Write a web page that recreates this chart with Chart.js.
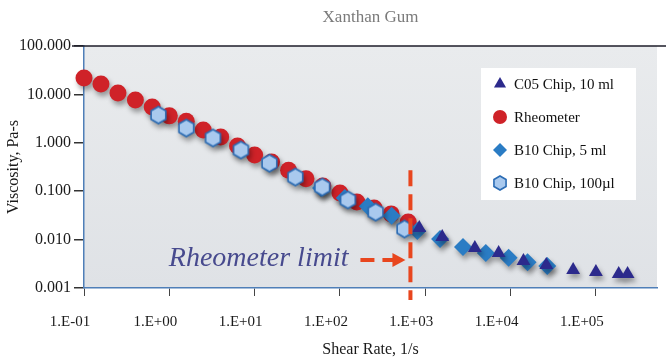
<!DOCTYPE html>
<html>
<head>
<meta charset="utf-8">
<title>Xanthan Gum</title>
<script src="https://cdn.jsdelivr.net/npm/chart.js@4.4.1/dist/chart.umd.min.js"></script>
<style>
  body { margin: 0; background: #fff; }
  #wrap { width: 666px; height: 359px; }
</style>
</head>
<body>
<div id="wrap"><canvas id="viscChart" width="666" height="359"></canvas></div>
<script>
// values (shear rate in 1/s, viscosity in Pa-s)
const c05Rate = [851, 1580, 3810, 7240, 14150, 26200, 54100, 100000, 185000, 235000];
const c05Visc = [0.0174, 0.0113, 0.0067, 0.0053, 0.0036, 0.0030, 0.00236, 0.00214, 0.00195, 0.00195];

const rheoRate = [0.1, 0.158, 0.25, 0.4, 0.63, 1.0, 1.58, 2.5, 4.0, 6.3, 10, 15.8, 25, 40, 63, 100, 158, 251, 398, 631];
const rheoVisc = [21.8, 16.4, 10.7, 7.7, 5.5, 3.6, 2.8, 1.84, 1.32, 0.86, 0.56, 0.40, 0.27, 0.18, 0.128, 0.092, 0.060, 0.045, 0.034, 0.023];

const b10Rate = [60, 114, 212, 403, 807, 1490, 2770, 5120, 9480, 15800, 26900];
const b10Visc = [0.116, 0.072, 0.049, 0.031, 0.0151, 0.0103, 0.0070, 0.0053, 0.0042, 0.0034, 0.00285];

const b10sRate = [0.745, 1.58, 3.25, 6.9, 14.9, 30, 62, 124, 262, 570];
const b10sVisc = [3.75, 2.02, 1.26, 0.71, 0.38, 0.196, 0.122, 0.066, 0.037, 0.0166];

const xTickValues = [0.1, 1, 10, 100, 1000, 10000, 100000];
const yTickValues = [0.001, 0.01, 0.1, 1, 10, 100];
const rheometerLimit = 670;

const toPoints = (xs, ys) => xs.map((v, i) => ({x: v, y: ys[i]}));

// hexagon marker, chart.js has no built in one
function hexMarker(r) {
    const s = Math.ceil(r * 2 + 4);
    const c = document.createElement('canvas');
    c.width = s; c.height = s;
    const g = c.getContext('2d');
    g.beginPath();
    for (let i = 0; i < 6; i++) {
        const a = -Math.PI / 2 + i * Math.PI / 3;
        const px = s / 2 + r * Math.cos(a), py = s / 2 + r * Math.sin(a);
        i ? g.lineTo(px, py) : g.moveTo(px, py);
    }
    g.closePath();
    g.fillStyle = '#a9c9ee';
    g.fill();
    g.lineWidth = 1.6;
    g.strokeStyle = '#2b6cb4';
    g.stroke();
    return c;
}
const hexBig = hexMarker(8.5);
const hexSmall = hexMarker(7);

const serif = '"Liberation Serif", "Times New Roman", serif';
Chart.defaults.font.family = serif;
Chart.defaults.font.size = 15;
Chart.defaults.color = '#1a1a1a';

const plotBackground = {
    id: 'plotBackground',
    beforeDraw(chart) {
        const {ctx, chartArea: a} = chart;
        ctx.save();
        ctx.fillStyle = '#fff';
        ctx.fillRect(0, 0, chart.width, chart.height);
        const g = ctx.createLinearGradient(0, a.top, 0, a.bottom);
        g.addColorStop(0, '#e9ebed');
        g.addColorStop(1, '#dfe2e6');
        ctx.fillStyle = g;
        ctx.fillRect(a.left, a.top, a.right - a.left, a.bottom - a.top);
        ctx.restore();
    }
};

const markerShadow = {
    id: 'markerShadow',
    beforeDatasetsDraw(chart) {
        const c = chart.ctx;
        c.save();
        c.shadowColor = 'rgba(0,0,0,0.35)';
        c.shadowBlur = 5;
        c.shadowOffsetX = 2;
        c.shadowOffsetY = 4;
    },
    afterDatasetsDraw(chart) {
        chart.ctx.restore();
    }
};

const limitAndLegend = {
    id: 'limitAndLegend',
    afterDraw(chart) {
        const {ctx, chartArea: a} = chart;
        const x = chart.scales.x, y = chart.scales.y;
        ctx.save();

        // dark line along the top of the plot
        ctx.strokeStyle = '#1c1c28';
        ctx.lineWidth = 1.5;
        ctx.beginPath();
        ctx.moveTo(a.left - 12, a.top);
        ctx.lineTo(chart.width, a.top);
        ctx.stroke();

        // rheometer limit line + arrow
        const lx = x.getPixelForValue(rheometerLimit);
        ctx.strokeStyle = '#e8461e';
        ctx.fillStyle = '#e8461e';
        ctx.lineWidth = 4;
        ctx.setLineDash([16, 8]);
        ctx.beginPath();
        ctx.moveTo(lx, y.getPixelForValue(0.27));
        ctx.lineTo(lx, a.bottom + 12);
        ctx.stroke();

        const ay = y.getPixelForValue(0.0038);
        ctx.setLineDash([14, 8]);
        ctx.beginPath();
        ctx.moveTo(lx - 50, ay);
        ctx.lineTo(lx - 16, ay);
        ctx.stroke();
        ctx.setLineDash([]);
        ctx.beginPath();
        ctx.moveTo(lx - 5, ay);
        ctx.lineTo(lx - 18, ay - 7);
        ctx.lineTo(lx - 18, ay + 7);
        ctx.closePath();
        ctx.fill();

        ctx.font = 'italic 28px ' + serif;
        ctx.fillStyle = '#474a8e';
        ctx.textAlign = 'right';
        ctx.textBaseline = 'middle';
        ctx.fillText('Rheometer limit', lx - 62, ay - 1);

        // legend box
        const bx = a.right - 176, by = a.top + 22;
        ctx.fillStyle = '#fff';
        ctx.fillRect(bx, by, 155, 132);
        ctx.font = '15px ' + serif;
        ctx.textAlign = 'left';
        const items = [0, 1, 2, 3].map(i => chart.data.datasets[i]);
        items.forEach((ds, i) => {
            const ry = by + 16 + 33 * i;
            ctx.fillStyle = ds.backgroundColor;
            ctx.strokeStyle = ds.borderColor;
            ctx.lineWidth = 1;
            const style = ds.pointStyle === hexBig ? hexSmall : ds.pointStyle;
            Chart.helpers.drawPoint(ctx, {pointStyle: style, rotation: 0, radius: 7, borderWidth: 0}, bx + 19, ry);
            ctx.fillStyle = '#111';
            ctx.fillText(ds.label, bx + 33, ry + 1);
        });
        ctx.restore();
    }
};

function expLabel(v) {
    const e = Math.round(Math.log10(v));
    return '1.E' + (e < 0 ? '-' : '+') + String(Math.abs(e)).padStart(2, '0');
}

new Chart(document.getElementById('viscChart'), {
    type: 'scatter',
    data: {
        datasets: [
            {
                label: 'C05 Chip, 10 ml',
                data: toPoints(c05Rate, c05Visc),
                pointStyle: 'triangle',
                pointRadius: 8,
                backgroundColor: '#2c2a8c',
                borderColor: '#2c2a8c',
                borderWidth: 0,
                order: 0,
                clip: false
            },
            {
                label: 'Rheometer',
                data: toPoints(rheoRate, rheoVisc),
                pointStyle: 'circle',
                pointRadius: 8.5,
                backgroundColor: '#cf2228',
                borderColor: '#cf2228',
                borderWidth: 0,
                order: 3,
                clip: false
            },
            {
                label: 'B10 Chip, 5 ml',
                data: toPoints(b10Rate, b10Visc),
                pointStyle: 'rectRot',
                pointRadius: 9,
                backgroundColor: '#2a7cc4',
                borderColor: '#2a7cc4',
                borderWidth: 0,
                order: 2,
                clip: false
            },
            {
                label: 'B10 Chip, 100\u00b5l',
                data: toPoints(b10sRate, b10sVisc),
                pointStyle: hexBig,
                pointRadius: 8.5,
                backgroundColor: '#a9c9ee',
                borderColor: '#2b6cb4',
                borderWidth: 0,
                order: 1,
                clip: false
            }
        ]
    },
    options: {
        responsive: false,
        animation: false,
        devicePixelRatio: 1,
        layout: { padding: { left: 0, right: 4, top: 0, bottom: 0 } },
        scales: {
            x: {
                type: 'logarithmic',
                min: 0.1,
                max: 520000,
                afterBuildTicks: s => { s.ticks = xTickValues.map(v => ({value: v})); },
                afterFit: s => { s.height = 71; },
                ticks: {
                    callback: v => expLabel(v),
                    autoSkip: false,
                    maxRotation: 0,
                    padding: 17,
                    labelOffset: -14,
                    color: '#1a1a1a',
                    font: { size: 15 }
                },
                grid: { drawOnChartArea: false, tickLength: 8, tickColor: '#444', lineWidth: 1 },
                border: { color: '#4f7fb8', width: 1.5 },
                title: { display: true, text: 'Shear Rate, 1/s', padding: { top: 0, bottom: 0 }, font: { size: 16 } }
            },
            y: {
                type: 'logarithmic',
                min: 0.001,
                max: 100,
                afterBuildTicks: s => { s.ticks = yTickValues.map(v => ({value: v})); },
                afterFit: s => { s.width = 84; },
                ticks: {
                    callback: v => Number(v).toFixed(3),
                    autoSkip: false,
                    padding: 3,
                    color: '#1a1a1a',
                    font: { size: 16 }
                },
                grid: { drawOnChartArea: false, tickLength: 10, tickColor: '#333', lineWidth: 1.5 },
                border: { color: '#4f7fb8', width: 1.5 },
                title: { display: true, text: 'Viscosity, Pa-s', padding: { top: 4, bottom: 0 }, font: { size: 16 } }
            }
        },
        plugins: {
            title: {
                display: true,
                text: 'Xanthan Gum',
                fullSize: false,
                color: '#7a7a7a',
                font: { size: 17, weight: 'normal' },
                padding: { top: 7, bottom: 18.6 }
            },
            legend: { display: false },
            tooltip: { enabled: false }
        }
    },
    plugins: [plotBackground, markerShadow, limitAndLegend]
});
</script>
</body>
</html>
